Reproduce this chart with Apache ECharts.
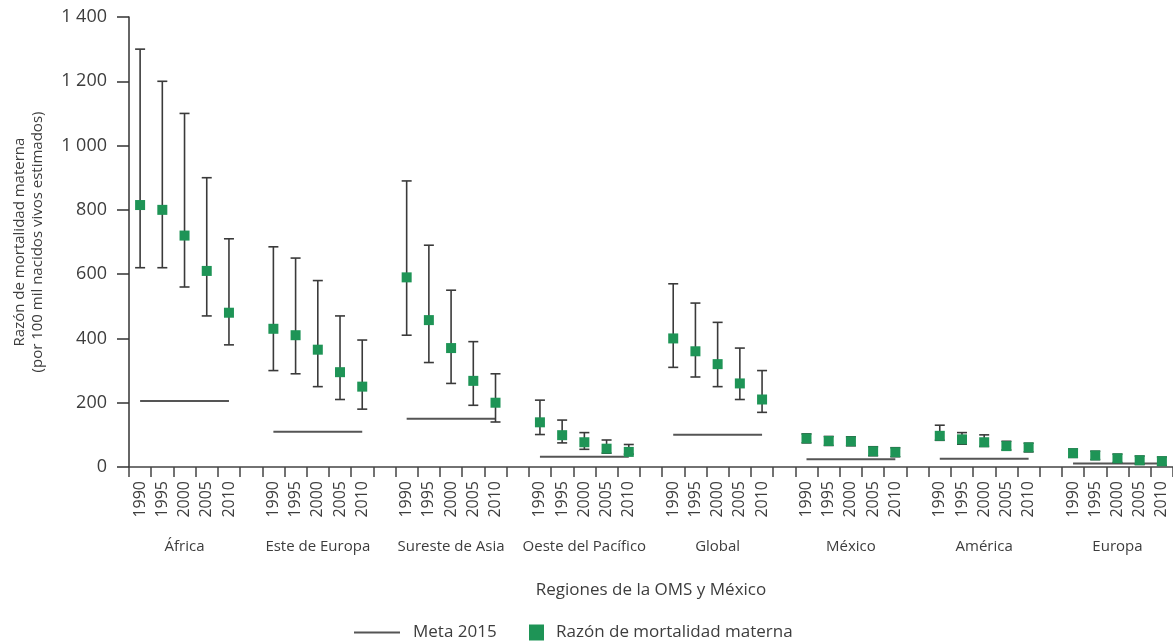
<!DOCTYPE html>
<html>
<head>
<meta charset="utf-8">
<script src="https://cdn.jsdelivr.net/npm/echarts@6/dist/echarts.min.js"></script>
<style>
  html, body { margin: 0; padding: 0; background: #fff; }
  #chart { width: 1173px; height: 644px; }
</style>
</head>
<body>
<div id="chart"></div>
<script>
// Regiones de la OMS y México, razón de mortalidad materna 1990-2010
const regions = ['África', 'Este de Europa', 'Sureste de Asia', 'Oeste del Pacífico', 'Global', 'México', 'América', 'Europa'];
const years = ['1990', '1995', '2000', '2005', '2010'];

// Estimación puntual por región y año
const razon = [
  [815, 800, 720, 610, 480],
  [430, 410, 365, 295, 250],
  [590, 457, 370, 268, 200],
  [139, 99, 77, 57, 47],
  [400, 360, 320, 260, 210],
  [89, 81, 80, 49, 46],
  [97, 86, 77, 65, 61],
  [43, 36, 27, 21, 18]
];
// Límite inferior del intervalo de incertidumbre
const inferior = [
  [620, 620, 560, 470, 380],
  [300, 290, 250, 210, 180],
  [410, 325, 260, 192, 140],
  [101, 75, 55, 43, 40],
  [310, 280, 250, 210, 170],
  [75, 67, 66, 35, 32],
  [83, 71, 64, 53, 47],
  [30, 23, 14, 8, 5]
];
// Límite superior del intervalo de incertidumbre
const superior = [
  [1300, 1200, 1100, 900, 710],
  [685, 650, 580, 470, 395],
  [890, 690, 550, 390, 290],
  [208, 146, 107, 84, 70],
  [570, 510, 450, 370, 300],
  [103, 95, 94, 63, 60],
  [130, 107, 100, 80, 74],
  [56, 49, 40, 34, 31]
];
// Meta 2015 por región
const meta2015 = [205, 110, 150, 32, 100, 24, 26, 11];

const yTicks = { min: 0, max: 1400, interval: 200 };

const FONT = '"Open Sans", "Noto Sans", sans-serif';
const TEXT = '#3d3d3d';
const GREEN = '#1e9456';

// Slots along the category axis: five years per region, one empty slot between regions
const slotLabels = [];
const groupLabels = [];
const points = [];
const bars = [];
const metaLine = [];
regions.forEach((r, g) => {
  years.forEach((y, k) => {
    const idx = slotLabels.length;
    slotLabels.push(y);
    groupLabels.push(k === 2 ? r : '');
    points.push([idx, razon[g][k]]);
    bars.push([idx, inferior[g][k], superior[g][k]]);
    metaLine.push(meta2015[g]);
  });
  if (g < regions.length - 1) {
    slotLabels.push('');
    groupLabels.push('');
    metaLine.push(null);
  }
});

const fmtThousands = v => String(v).replace(/\B(?=(\d{3})+(?!\d))/g, ' ');

const chart = echarts.init(document.getElementById('chart'), null, { renderer: 'canvas' });

chart.setOption({
  animation: false,
  backgroundColor: '#fff',
  textStyle: { fontFamily: FONT, color: TEXT },
  grid: { left: 129, right: 0, top: 17, bottom: 177, containLabel: false },
  legend: [
    {
      data: ['Meta 2015'],
      left: 354, top: 624, padding: 0,
      icon: 'rect', itemWidth: 46, itemHeight: 2,
      textStyle: { fontFamily: FONT, fontSize: 17, color: TEXT, padding: [0, 0, 0, 8] }
    },
    {
      data: ['Razón de mortalidad materna'],
      left: 529, top: 624, padding: 0,
      icon: 'rect', itemWidth: 15, itemHeight: 16,
      textStyle: { fontFamily: FONT, fontSize: 17, color: TEXT, padding: [0, 0, 0, 7] }
    }
  ],
  xAxis: [
    {
      type: 'category',
      data: slotLabels,
      boundaryGap: true,
      name: 'Regiones de la OMS y México',
      nameLocation: 'middle',
      nameGap: 115,
      nameTextStyle: { fontFamily: FONT, fontSize: 17, color: TEXT },
      axisLine: { lineStyle: { color: '#444', width: 1.5 } },
      axisTick: { show: true, interval: 0, length: 10, lineStyle: { color: '#444', width: 1.5 } },
      axisLabel: { interval: 0, rotate: 90, margin: 14, fontFamily: FONT, fontSize: 16, color: TEXT },
      splitLine: { show: false }
    },
    {
      type: 'category',
      data: groupLabels,
      position: 'bottom',
      boundaryGap: true,
      axisLine: { show: false },
      axisTick: { show: false },
      axisLabel: { interval: 0, margin: 72, fontFamily: FONT, fontSize: 15, color: TEXT },
      splitLine: { show: false }
    }
  ],
  yAxis: {
    type: 'value',
    min: yTicks.min, max: yTicks.max, interval: yTicks.interval,
    name: 'Razón de mortalidad materna\n(por 100 mil nacidos vivos estimados)',
    nameLocation: 'middle',
    nameRotate: 90,
    nameGap: 82,
    nameTextStyle: { fontFamily: FONT, fontSize: 15, color: TEXT, lineHeight: 18 },
    axisLine: { show: true, lineStyle: { color: '#333', width: 1.5 } },
    axisTick: { show: true, length: 12, lineStyle: { color: '#333', width: 1.5 } },
    axisLabel: { margin: 22, fontFamily: FONT, fontSize: 18, color: TEXT, formatter: fmtThousands },
    splitLine: { show: false }
  },
  series: [
    {
      name: 'Meta 2015',
      type: 'line',
      data: metaLine,
      symbol: 'none',
      connectNulls: false,
      itemStyle: { color: '#555' },
      lineStyle: { color: '#555', width: 2 },
      z: 2
    },
    {
      name: 'Intervalo',
      type: 'custom',
      data: bars,
      encode: { x: 0, y: [1, 2] },
      renderItem: (params, api) => {
        const lo = api.coord([api.value(0), api.value(1)]);
        const hi = api.coord([api.value(0), api.value(2)]);
        const half = 5;
        const style = { stroke: '#3a3a3a', lineWidth: 1.6 };
        return {
          type: 'group',
          children: [
            { type: 'line', shape: { x1: lo[0], y1: lo[1], x2: hi[0], y2: hi[1] }, style },
            { type: 'line', shape: { x1: lo[0] - half, y1: lo[1], x2: lo[0] + half, y2: lo[1] }, style },
            { type: 'line', shape: { x1: hi[0] - half, y1: hi[1], x2: hi[0] + half, y2: hi[1] }, style }
          ]
        };
      },
      z: 3
    },
    {
      name: 'Razón de mortalidad materna',
      type: 'scatter',
      data: points,
      symbol: 'rect',
      symbolSize: 10,
      itemStyle: { color: GREEN, opacity: 1 },
      z: 4
    }
  ]
});
</script>
</body>
</html>
